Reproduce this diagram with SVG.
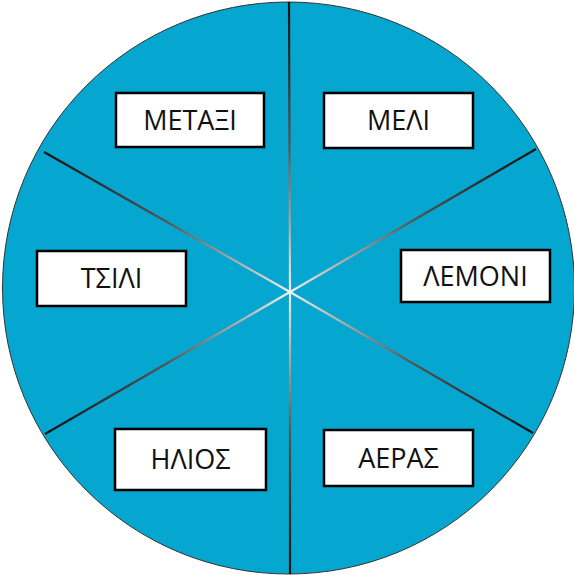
<svg xmlns="http://www.w3.org/2000/svg" width="574" height="575" viewBox="0 0 574 575">
  <style>
    .box rect { fill: #ffffff; stroke: #000000; stroke-width: 2.5; }
    .box text { font-family: "Open Sans", "Liberation Sans", sans-serif; font-size: 27px; fill: #111111; text-anchor: middle; }
    .spoke { stroke-width: 2.2; fill: none; }
  </style>
  <defs>
    <linearGradient id="gN" gradientUnits="userSpaceOnUse" x1="290" y1="292" x2="289" y2="2">
      <stop offset="0" stop-color="#f0f0f0"/><stop offset="0.5" stop-color="#555"/><stop offset="1" stop-color="#111"/>
    </linearGradient>
    <linearGradient id="gS" gradientUnits="userSpaceOnUse" x1="290" y1="292" x2="290" y2="574">
      <stop offset="0" stop-color="#f0f0f0"/><stop offset="0.5" stop-color="#555"/><stop offset="1" stop-color="#111"/>
    </linearGradient>
    <linearGradient id="gNW" gradientUnits="userSpaceOnUse" x1="290" y1="292" x2="44" y2="152">
      <stop offset="0" stop-color="#f0f0f0"/><stop offset="0.5" stop-color="#555"/><stop offset="1" stop-color="#111"/>
    </linearGradient>
    <linearGradient id="gNE" gradientUnits="userSpaceOnUse" x1="290" y1="292" x2="536" y2="149">
      <stop offset="0" stop-color="#f0f0f0"/><stop offset="0.5" stop-color="#555"/><stop offset="1" stop-color="#111"/>
    </linearGradient>
    <linearGradient id="gSW" gradientUnits="userSpaceOnUse" x1="290" y1="292" x2="45" y2="434">
      <stop offset="0" stop-color="#f0f0f0"/><stop offset="0.5" stop-color="#555"/><stop offset="1" stop-color="#111"/>
    </linearGradient>
    <linearGradient id="gSE" gradientUnits="userSpaceOnUse" x1="290" y1="292" x2="533" y2="433">
      <stop offset="0" stop-color="#f0f0f0"/><stop offset="0.5" stop-color="#555"/><stop offset="1" stop-color="#111"/>
    </linearGradient>
  </defs>
  <rect width="574" height="575" fill="#ffffff"/>
  <circle id="disc" cx="288.5" cy="288" r="286" fill="#05a6cf" stroke="#333333" stroke-width="1"/>
  <g id="connectors">
    <line class="spoke" x1="290" y1="292" x2="289" y2="2" stroke="url(#gN)"/>
    <line class="spoke" x1="290" y1="292" x2="290" y2="574" stroke="url(#gS)"/>
    <line class="spoke" x1="290" y1="292" x2="44" y2="152" stroke="url(#gNW)"/>
    <line class="spoke" x1="290" y1="292" x2="536" y2="149" stroke="url(#gNE)"/>
    <line class="spoke" x1="290" y1="292" x2="45" y2="434" stroke="url(#gSW)"/>
    <line class="spoke" x1="290" y1="292" x2="533" y2="433" stroke="url(#gSE)"/>
  </g>
  <g id="node-metaxi" class="box">
    <rect x="116" y="93" width="148" height="54"/>
    <text x="190" y="130">ΜΕΤΑΞΙ</text>
  </g>
  <g id="node-meli" class="box">
    <rect x="324" y="93" width="149" height="55"/>
    <text x="398.5" y="130">ΜΕΛΙ</text>
  </g>
  <g id="node-tsili" class="box">
    <rect x="37" y="251" width="149" height="55"/>
    <text x="111.5" y="288">ΤΣΙΛΙ</text>
  </g>
  <g id="node-lemoni" class="box">
    <rect x="401" y="250" width="149" height="52"/>
    <text x="475.5" y="286">ΛΕΜΟΝΙ</text>
  </g>
  <g id="node-ilios" class="box">
    <rect x="115" y="429" width="151" height="61"/>
    <text x="190.5" y="469">ΗΛΙΟΣ</text>
  </g>
  <g id="node-aeras" class="box">
    <rect x="324" y="430" width="149" height="56"/>
    <text x="398.5" y="468">ΑΕΡΑΣ</text>
  </g>
</svg>
